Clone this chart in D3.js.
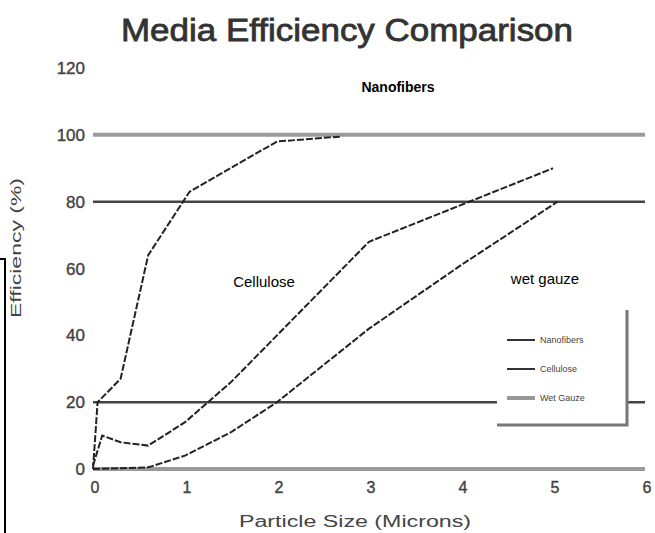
<!DOCTYPE html>
<html>
<head>
<meta charset="utf-8">
<script src="https://cdn.jsdelivr.net/npm/d3@7"></script>
<style>
  body { margin: 0; background: #fff; }
  text { font-family: "Liberation Sans", Arial, sans-serif; }
</style>
</head>
<body>
<script>
// data
const xTicks = [0, 1, 2, 3, 4, 5, 6];
const yTicks = [0, 20, 40, 60, 80, 100, 120];
const gridLines = [20, 80]; // dark rules
const greyLines = [0, 100]; // pale thick rules
const nanofibers = [[0, 0], [0.05, 20], [0.3, 27], [0.6, 64], [1.05, 83], [2, 98], [2.7, 99.5]];
const cellulose = [[0, 1], [0.1, 10], [0.3, 8], [0.6, 7], [1, 14], [1.5, 26], [2, 40], [3, 68], [5, 90]];
const wetGauze = [[0, 0], [0.6, 0.5], [1, 4], [1.5, 11], [2, 20], [3, 42], [4, 61], [5.05, 80]];
const legendNames = ["Nanofibers", "Cellulose", "Wet Gauze"];

function main(){
    let width = 655, height = 533;

    var svg = d3.select('body').append('svg')
        .attr('width', width)
        .attr('height', height);

    var x = d3.scaleLinear().domain([0, 6]).range([93, 645]);
    var y = d3.scaleLinear().domain([0, 120]).range([469, 68]);

    // odd frame edge left over from the scan
    svg.append('path')
        .attr('d', 'M0,259H5V533')
        .attr('fill', 'none')
        .attr('stroke', '#000')
        .attr('stroke-width', 2);

    // title
    svg.append('text')
        .attr('x', 347).attr('y', 41)
        .attr('text-anchor', 'middle')
        .attr('font-size', 31)
        .attr('textLength', 452)
        .attr('lengthAdjust', 'spacingAndGlyphs')
        .attr('fill', '#333')
        .attr('stroke', '#333').attr('stroke-width', 0.8)
        .text('Media Efficiency Comparison');

    // rules
    svg.selectAll('.grey').data(greyLines).enter().append('line')
        .attr('x1', x(0)).attr('x2', x(6))
        .attr('y1', d => y(d)).attr('y2', d => y(d))
        .attr('stroke', '#9a9a9a').attr('stroke-width', 4);
    svg.selectAll('.grid').data(gridLines).enter().append('line')
        .attr('x1', x(0)).attr('x2', x(6))
        .attr('y1', d => y(d)).attr('y2', d => y(d))
        .attr('stroke', '#444').attr('stroke-width', 2.5);

    // y tick labels
    svg.selectAll('.ylab').data(yTicks).enter().append('text')
        .attr('x', 85).attr('y', d => y(d) + 6)
        .attr('text-anchor', 'end')
        .attr('font-size', 17)
        .attr('fill', '#444')
        .attr('stroke', '#444').attr('stroke-width', 0.4)
        .text(d => d);

    // x tick labels
    svg.selectAll('.xlab').data(xTicks).enter().append('text')
        .attr('x', d => x(d) + 2).attr('y', 493)
        .attr('text-anchor', 'middle')
        .attr('font-size', 16)
        .attr('fill', '#444')
        .attr('stroke', '#444').attr('stroke-width', 0.4)
        .text(d => d);

    // axis titles
    svg.append('text')
        .attr('x', 355).attr('y', 527)
        .attr('text-anchor', 'middle')
        .attr('font-size', 16)
        .attr('textLength', 232)
        .attr('lengthAdjust', 'spacingAndGlyphs')
        .attr('fill', '#444')
        .text('Particle Size (Microns)');
    svg.append('text')
        .attr('transform', 'translate(21,248) rotate(-90)')
        .attr('text-anchor', 'middle')
        .attr('font-size', 15)
        .attr('textLength', 140)
        .attr('lengthAdjust', 'spacingAndGlyphs')
        .attr('fill', '#444')
        .text('Efficiency (%)');

    // curves
    var line = d3.line().x(d => x(d[0])).y(d => y(d[1]));
    [nanofibers, cellulose, wetGauze].forEach(function(s){
        svg.append('path')
            .datum(s)
            .attr('d', line)
            .attr('fill', 'none')
            .attr('stroke', '#222')
            .attr('stroke-width', 2)
            .attr('stroke-dasharray', '7,2');
    });

    // curve labels
    svg.append('text').attr('x', 398).attr('y', 92)
        .attr('text-anchor', 'middle').attr('font-size', 14).attr('font-weight', 'bold')
        .text('Nanofibers');
    svg.append('text').attr('x', 264).attr('y', 287)
        .attr('text-anchor', 'middle').attr('font-size', 15)
        .text('Cellulose');
    svg.append('text').attr('x', 545).attr('y', 284)
        .attr('text-anchor', 'middle').attr('font-size', 15)
        .text('wet gauze');

    // legend box
    var lg = svg.append('g');
    lg.append('rect')
        .attr('x', 497).attr('y', 310).attr('width', 130).attr('height', 115)
        .attr('fill', '#fff');
    lg.append('path')
        .attr('d', 'M497,425H627V310')
        .attr('fill', 'none')
        .attr('stroke', '#777').attr('stroke-width', 3);
    var item = lg.selectAll('.item').data(legendNames).enter().append('g')
        .attr('transform', (d, i) => `translate(507,${340 + i * 29})`);
    item.append('line')
        .attr('x1', 0).attr('x2', 28)
        .attr('stroke', (d, i) => i == 2 ? '#999' : '#333')
        .attr('stroke-width', (d, i) => i == 2 ? 4 : 2);
    item.append('text')
        .attr('x', 33).attr('y', 3)
        .attr('font-size', 9)
        .attr('fill', '#444')
        .text(d => d);
}
main();
</script>
</body>
</html>
